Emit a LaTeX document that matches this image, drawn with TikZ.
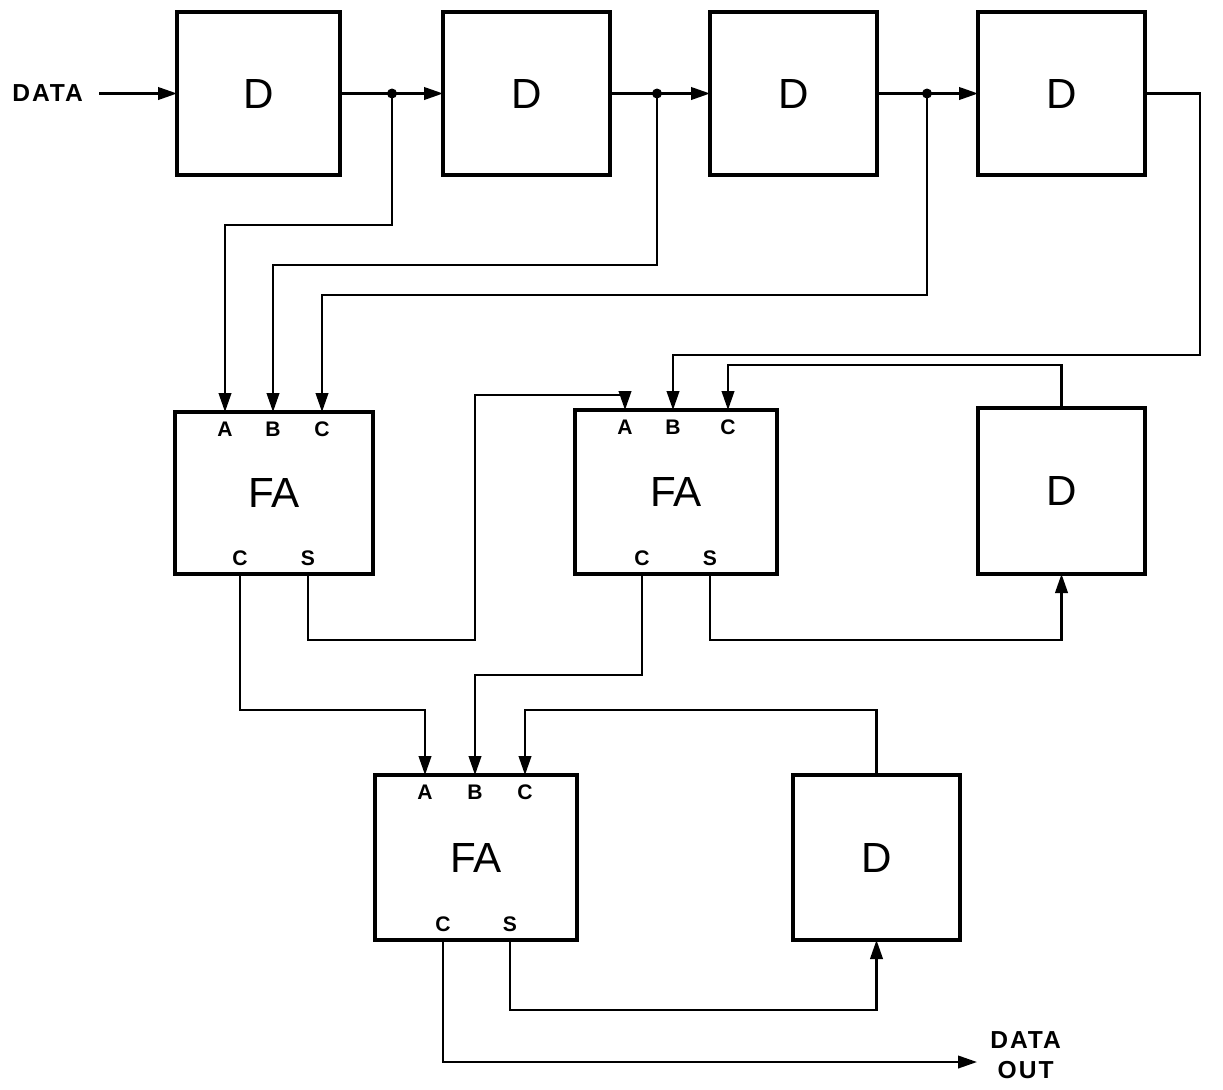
\documentclass[tikz,border=0pt]{standalone}
\usepackage{fontspec}
\setmainfont{Liberation Sans}
\newfontfamily\lettering[LetterSpace=8]{Liberation Sans}
\usetikzlibrary{arrows.meta,calc}
\begin{document}
\begin{tikzpicture}[x=0.02cm,y=-0.02cm,
  blk/.style={draw,line width=1.9pt,inner sep=0pt,outer sep=0pt,font=\fontsize{24}{26}\selectfont},
  pin/.style={inner sep=0pt,font=\fontsize{12}{13}\selectfont\bfseries},
  wire/.style={line width=1.35pt},
  arr/.style={wire,-{Triangle[length=0.38cm,width=0.25cm]}},
  lbl/.style={inner sep=0pt,font=\lettering\fontsize{14}{16}\selectfont\bfseries}]
\useasboundingbox[fill=white] (0,0) rectangle (1223,1089);
% top row of delays
\node[blk,minimum width=163*0.02cm,minimum height=163*0.02cm] (d1) at (258.5,93.5) {D};
\node[blk,minimum width=167*0.02cm,minimum height=163*0.02cm] (d2) at (526.5,93.5) {D};
\node[blk,minimum width=167*0.02cm,minimum height=163*0.02cm] (d3) at (793.5,93.5) {D};
\node[blk,minimum width=167*0.02cm,minimum height=163*0.02cm] (d4) at (1061.5,93.5) {D};
% adders and delays
\node[blk,minimum width=198*0.02cm,minimum height=162*0.02cm] (fa1) at (274,493) {FA};
\node[blk,minimum width=202*0.02cm,minimum height=164*0.02cm] (fa2) at (676,492) {FA};
\node[blk,minimum width=167*0.02cm,minimum height=166*0.02cm] (d5) at (1061.5,491) {D};
\node[blk,minimum width=202*0.02cm,minimum height=165*0.02cm] (fa3) at (476,857.5) {FA};
\node[blk,minimum width=167*0.02cm,minimum height=165*0.02cm] (d6) at (876.5,857.5) {D};
% port coordinates
\coordinate (fa1A) at ($(fa1.north west)+(50,0)$);
\coordinate (fa1B) at ($(fa1.north west)+(98,0)$);
\coordinate (fa1C) at ($(fa1.north west)+(147,0)$);
\coordinate (fa1Co) at ($(fa1.south west)+(65,0)$);
\coordinate (fa1S) at ($(fa1.south west)+(133,0)$);
\coordinate (fa2A) at ($(fa2.north west)+(50,0)$);
\coordinate (fa2B) at ($(fa2.north west)+(98,0)$);
\coordinate (fa2C) at ($(fa2.north west)+(153,0)$);
\coordinate (fa2Co) at ($(fa2.south west)+(67,0)$);
\coordinate (fa2S) at ($(fa2.south west)+(135,0)$);
\coordinate (fa3A) at ($(fa3.north west)+(50,0)$);
\coordinate (fa3B) at ($(fa3.north west)+(100,0)$);
\coordinate (fa3C) at ($(fa3.north west)+(150,0)$);
\coordinate (fa3Co) at ($(fa3.south west)+(68,0)$);
\coordinate (fa3S) at ($(fa3.south west)+(135,0)$);
% port labels
\foreach \f in {fa1,fa2,fa3}{
  \node[pin] (\f la) at ($(\f A)+(0,17)$) {A};
  \node[pin] (\f lb) at ($(\f B)+(0,17)$) {B};
  \node[pin] (\f lc) at ($(\f C)+(0,17)$) {C};
  \node[pin] (\f lco) at ($(\f Co)+(0,-16)$) {C};
  \node[pin] (\f ls) at ($(\f S)+(0,-16)$) {S};
}
% junctions
\coordinate (j1) at (392,93.5);
\coordinate (j2) at (657,93.5);
\coordinate (j3) at (927,93.5);
% input
\node[lbl,anchor=west] (data) at (12,93) {DATA};
\coordinate (din) at (99,93.5);
\draw[arr] (din) -- (d1.west);
% shift register
\draw[arr] (d1.east) -- (d2.west);
\draw[arr] (d2.east) -- (d3.west);
\draw[arr] (d3.east) -- (d4.west);
\foreach \j in {j1,j2,j3}{\fill (\j) circle (5);}
% taps to first adder
\draw[arr] (j1) -- ++(0,131.5) -| (fa1A);
\draw[arr] (j2) -- ++(0,171.5) -| (fa1B);
\draw[arr] (j3) -- ++(0,201.5) -| (fa1C);
\draw[arr] (d4.east) -- ++(55,0) -- ++(0,261.5) -| (fa2B);
% first adder outputs
\draw[arr] (fa1S) -- ++(0,66) -- ++(167,0) -- ++(0,-245) -| (fa2A);
\draw[arr] (fa1Co) -- ++(0,136) -| (fa3A);
% second adder loop
\draw[arr] (d5.north) -- ++(0,-43) -| (fa2C);
\draw[arr] (fa2S) -- ++(0,66) -| (d5.south);
\draw[arr] (fa2Co) -- ++(0,101) -| (fa3B);
% third adder loop
\draw[arr] (d6.north) -- ++(0,-65) -| (fa3C);
\draw[arr] (fa3S) -- ++(0,70) -| (d6.south);
% output
\coordinate (dout) at (977,1062);
\draw[arr] (fa3Co) |- (dout);
\node[lbl,anchor=west,align=center] (outlbl) at (990,1055) {DATA\\[1pt]OUT};
\end{tikzpicture}
\end{document}
